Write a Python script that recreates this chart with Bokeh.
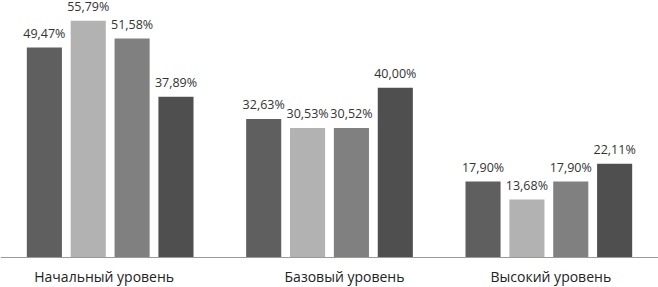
from bokeh.plotting import figure
from bokeh.models import ColumnDataSource, FactorRange, Span
from bokeh.transform import dodge
from bokeh.core.properties import value
from bokeh.embed import file_html
from bokeh.resources import INLINE

categories = ["Начальный уровень", "Базовый уровень", "Высокий уровень"]
series_names = ["Ряд 1", "Ряд 2", "Ряд 3", "Ряд 4"]
series1 = [49.47, 32.63, 17.90]
series2 = [55.79, 30.53, 13.68]
series3 = [51.58, 30.52, 17.90]
series4 = [37.89, 40.00, 22.11]

all_series = [series1, series2, series3, series4]
colors = ["#5f5f5f", "#b2b2b2", "#808080", "#4f4f4f"]
offsets = [-0.3, -0.1, 0.1, 0.3]

W, H = 658, 287
base_px = 257
px_per = 4.245
y_top = base_px / px_per
y_bot = -(H - base_px) / px_per

p = figure(width=W, height=H, x_range=FactorRange(factors=categories, range_padding=0),
           y_range=(y_bot, y_top), output_backend="svg", toolbar_location=None,
           min_border=0, outline_line_color=None)
p.xaxis.visible = False
p.yaxis.visible = False
p.xgrid.visible = False
p.ygrid.visible = False
p.background_fill_color = "white"
p.border_fill_color = "white"

for vals, col, off, name in zip(all_series, colors, offsets, series_names):
    src = ColumnDataSource(dict(cat=categories, v=vals,
                                lab=[f"{x:.2f}".replace(".", ",") + "%" for x in vals]))
    p.vbar(x=dodge("cat", off, range=p.x_range), top="v", width=0.16, source=src,
           fill_color=col, line_color=None)
    p.text(x=dodge("cat", off, range=p.x_range), y="v", text="lab", source=src,
           text_font=value("Open Sans"), text_font_size="12.5px", text_color="#333333",
           text_align="center", text_baseline="alphabetic", y_offset=-14)

p.add_layout(Span(location=0, dimension="width", line_color="#9a9a9a", line_width=1))

label_shift = [-6, 15, 2]
csrc = ColumnDataSource(dict(cat=categories, y=[0] * len(categories), dx=label_shift))
p.text(x="cat", y="y", text="cat", source=csrc, x_offset="dx", y_offset=19,
       text_font=value("Open Sans"), text_font_size="14px", text_color="#222222",
       text_align="center", text_baseline="alphabetic")

open("out.html", "w").write(file_html(p, INLINE))
